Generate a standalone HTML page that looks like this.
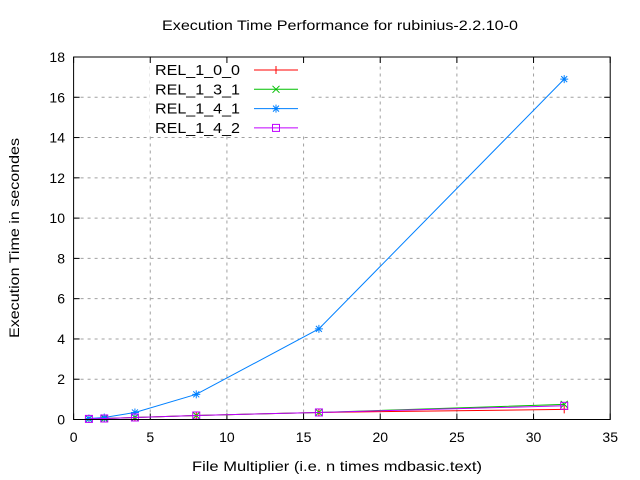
<!DOCTYPE html>
<html><head><meta charset="utf-8"><style>
body{margin:0;background:#fff}
svg{display:block;font-family:"Liberation Sans",sans-serif}
</style></head><body>
<svg id="c" width="640" height="480" viewBox="0 0 640 480">
<rect width="640" height="480" fill="#fff"/>
<text x="340" y="30" text-anchor="middle" font-size="14" textLength="356" lengthAdjust="spacingAndGlyphs">Execution Time Performance for rubinius-2.2.10-0</text>
<text x="337" y="471" text-anchor="middle" font-size="14" textLength="290" lengthAdjust="spacingAndGlyphs">File Multiplier (i.e. n times mdbasic.text)</text>
<text transform="translate(19,238) rotate(-90)" text-anchor="middle" font-size="14" textLength="200" lengthAdjust="spacingAndGlyphs">Execution Time in secondes</text>
<g id="grid"></g>
<g id="ticks"></g>
<g id="series"></g>
<rect x="73.6" y="57" width="536.6" height="362.5" fill="none" stroke="#000"/>
<g id="legend"></g>
</svg>
<script>
const xTicks=[0,5,10,15,20,25,30,35];
const yTicks=[0,2,4,6,8,10,12,14,16,18];
const xVals=[1,2,4,8,16,32];
const seriesNames=["REL_1_0_0","REL_1_3_1","REL_1_4_1","REL_1_4_2"];
const rel100=[0.03,0.05,0.1,0.2,0.35,0.5];
const rel131=[0.03,0.05,0.1,0.2,0.35,0.75];
const rel141=[0.05,0.1,0.35,1.25,4.5,16.9];
const rel142=[0.03,0.05,0.1,0.2,0.35,0.68];
const colors=["#ff0000","#00c000","#0080ff","#c000ff"];
const NS="http://www.w3.org/2000/svg";
const X0=73.6,X1=610.2,Y0=419.5,Y1=57;
const sx=v=>X0+(v-0)/(35-0)*(X1-X0);
const sy=v=>Y0-(v-0)/(18-0)*(Y0-Y1);
function mk(t,a,p){const e=document.createElementNS(NS,t);for(const k in a)e.setAttribute(k,a[k]);p.appendChild(e);return e;}
const grid=document.getElementById('grid'),ticks=document.getElementById('ticks'),ser=document.getElementById('series'),leg=document.getElementById('legend');
xTicks.forEach(v=>{
  const x=sx(v);
  if(v>0&&v<35){const g=mk('line',{x1:x,x2:x,y1:Y0,y2:Y1,stroke:'#a0a0a0','stroke-dasharray':'3,4'},grid);
  
  }
  mk('line',{x1:x,x2:x,y1:Y0,y2:Y0-6,stroke:'#000'},ticks);
  mk('line',{x1:x,x2:x,y1:Y1,y2:Y1+6,stroke:'#000'},ticks);
  const t=mk('text',{x:x,y:442,'text-anchor':'middle','font-size':14},ticks);t.textContent=v;
  
  
});
yTicks.forEach(v=>{
  const y=sy(v);
  if(v>0&&v<18){const g=mk('line',{x1:X0,x2:X1,y1:y,y2:y,stroke:'#a0a0a0','stroke-dasharray':'3,4'},grid);
  
  }
  mk('line',{x1:X0,x2:X0+6,y1:y,y2:y,stroke:'#000'},ticks);
  mk('line',{x1:X1,x2:X1-6,y1:y,y2:y,stroke:'#000'},ticks);
  const t=mk('text',{x:65,y:y+5,'text-anchor':'end','font-size':14},ticks);t.textContent=v;
  
  
});
mk('rect',{x:150,y:60,width:160,height:75,fill:'#fff'},grid);
function marker(i,x,y,p){
  const c=colors[i];
  if(i===0){mk('path',{d:`M${x-4},${y}H${x+4}M${x},${y-4}V${y+4}`,stroke:c,fill:'none'},p);}
  else if(i===1){mk('path',{d:`M${x-3.5},${y-3.5}L${x+3.5},${y+3.5}M${x-3.5},${y+3.5}L${x+3.5},${y-3.5}`,stroke:c,fill:'none'},p);}
  else if(i===2){mk('path',{d:`M${x-4},${y}H${x+4}M${x},${y-4}V${y+4}M${x-3},${y-3}L${x+3},${y+3}M${x-3},${y+3}L${x+3},${y-3}`,stroke:c,fill:'none'},p);}
  else {mk('rect',{x:x-3.5,y:y-3.5,width:7,height:7,stroke:c,fill:'none'},p);}
}
const all=[rel100,rel131,rel141,rel142];
all.forEach((vals,i)=>{
  const g=mk('g',{},ser);
  
  
  mk('polyline',{points:vals.map((v,j)=>sx(xVals[j])+','+sy(v)).join(' '),fill:'none',stroke:colors[i]},g);
  vals.forEach((v,j)=>marker(i,sx(xVals[j]),sy(v),g));
  const ly=70+i*19.3;
  const e=mk('g',{},leg);
  
  
  const t=mk('text',{x:240,y:ly+5,'text-anchor':'end','font-size':15,textLength:85,lengthAdjust:'spacingAndGlyphs'},e);t.textContent=seriesNames[i];
  mk('line',{x1:254,x2:298,y1:ly,y2:ly,stroke:colors[i]},e);
  marker(i,276,ly,e);
});
</script>
</body></html>
